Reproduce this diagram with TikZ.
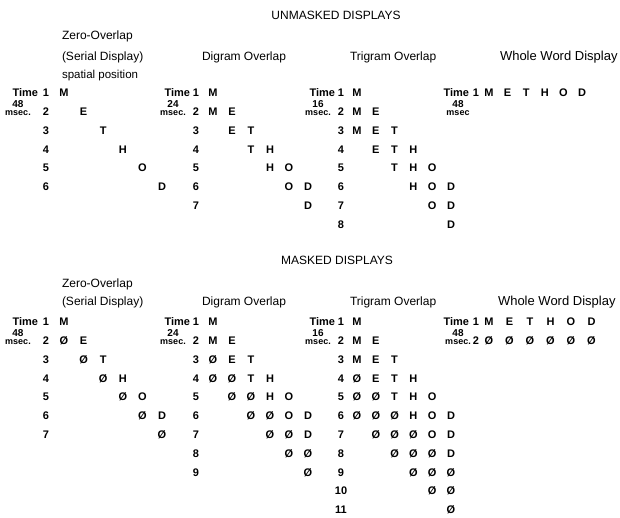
\documentclass[tikz,border=0pt]{standalone}
\usepackage{fontspec}
\setmainfont{Liberation Sans}
\begin{document}
\begin{tikzpicture}[x=1pt,y=-1pt,
  every node/.style={inner sep=0pt, outer sep=0pt},
  hdr/.style={font=\fontsize{12}{14}\selectfont},
  ttl/.style={font=\fontsize{12}{14}\selectfont, anchor=west},
  wttl/.style={font=\fontsize{13}{15}\selectfont, anchor=west},
  sml/.style={font=\fontsize{11.5}{13}\selectfont, anchor=west},
  cell/.style={font=\fontsize{11}{13}\selectfont\bfseries},
  tim/.style={font=\fontsize{11}{13}\selectfont\bfseries, anchor=east},
  dur/.style={font=\fontsize{10}{11}\selectfont\bfseries},
  ms/.style={font=\fontsize{9}{10}\selectfont\bfseries},
]
\useasboundingbox (0,0) rectangle (620,518);
% ---------------- UNMASKED ----------------
\def\uy{93}\def\dy{18.8}
\node[hdr] (uhead) at (336,15) {UNMASKED DISPLAYS};
\node[ttl] (uz1) at (62,36) {Zero-Overlap};
\node[ttl] (uz2) at (62,57) {(Serial Display)};
\node[sml] (uz3) at (62,76) {spatial position};
\node[ttl] (udt) at (202,57) {Digram Overlap};
\node[ttl] (utt) at (350,57) {Trigram Overlap};
\node[wttl] (uwt) at (500,57) {Whole Word Display};
% zero overlap
\node[tim] (zu-time) at (38,\uy) {Time};
\node[dur] (zu-dur) at (18,{\uy+11}) {48};
\node[ms] (zu-ms) at (18,{\uy+20}) {msec.};
\foreach \r in {1,...,6} \node[cell] (zu-d\r) at (46,{\uy+\dy*(\r-1)}) {\r};
\foreach \r/\c/\ch in {1/0/M,2/1/E,3/2/T,4/3/H,5/4/O,6/5/D}
  \node[cell] (zu-\r-\c) at ({64+19.6*\c},{\uy+\dy*(\r-1)}) {\ch};
% digram
\node[tim] (du-time) at (190,\uy) {Time};
\node[dur] (du-dur) at (173,{\uy+11}) {24};
\node[ms] (du-ms) at (173,{\uy+20}) {msec.};
\foreach \r in {1,...,7} \node[cell] (du-d\r) at (196,{\uy+\dy*(\r-1)}) {\r};
\foreach \r/\c/\ch in {1/0/M,2/0/M,2/1/E,3/1/E,3/2/T,4/2/T,4/3/H,5/3/H,5/4/O,6/4/O,6/5/D,7/5/D}
  \node[cell] (du-\r-\c) at ({213+19*\c},{\uy+\dy*(\r-1)}) {\ch};
% trigram
\node[tim] (tu-time) at (335,\uy) {Time};
\node[dur] (tu-dur) at (318,{\uy+11}) {16};
\node[ms] (tu-ms) at (318,{\uy+20}) {msec.};
\foreach \r in {1,...,8} \node[cell] (tu-d\r) at (341,{\uy+\dy*(\r-1)}) {\r};
\foreach \r/\c/\ch in {1/0/M,2/0/M,2/1/E,3/0/M,3/1/E,3/2/T,4/1/E,4/2/T,4/3/H,
    5/2/T,5/3/H,5/4/O,6/3/H,6/4/O,6/5/D,7/4/O,7/5/D,8/5/D}
  \node[cell] (tu-\r-\c) at ({357+18.8*\c},{\uy+\dy*(\r-1)}) {\ch};
% whole word
\node[tim] (wu-time) at (469,\uy) {Time};
\node[dur] (wu-dur) at (458,{\uy+11}) {48};
\node[ms] (wu-ms) at (458,{\uy+20}) {msec};
\node[cell] (wu-d1) at (476,\uy) {1};
\foreach \c/\ch in {0/M,1/E,2/T,3/H,4/O,5/D}
  \node[cell] (wu-1-\c) at ({489+18.6*\c},\uy) {\ch};
% ---------------- MASKED ----------------
\def\my{322}
\node[hdr] (mhead) at (337,260) {MASKED DISPLAYS};
\node[ttl] (mz1) at (62,284) {Zero-Overlap};
\node[ttl] (mz2) at (62,302) {(Serial Display)};
\node[ttl] (mdt) at (202,302) {Digram Overlap};
\node[ttl] (mtt) at (350,302) {Trigram Overlap};
\node[wttl] (mwt) at (498,302) {Whole Word Display};
% zero overlap
\node[tim] (zm-time) at (38,\my) {Time};
\node[dur] (zm-dur) at (18,{\my+11}) {48};
\node[ms] (zm-ms) at (18,{\my+20}) {msec.};
\foreach \r in {1,...,7} \node[cell] (zm-d\r) at (46,{\my+\dy*(\r-1)}) {\r};
\foreach \r/\c/\ch in {1/0/M,2/0/Ø,2/1/E,3/1/Ø,3/2/T,4/2/Ø,4/3/H,5/3/Ø,5/4/O,6/4/Ø,6/5/D,7/5/Ø}
  \node[cell] (zm-\r-\c) at ({64+19.6*\c},{\my+\dy*(\r-1)}) {\ch};
% digram
\node[tim] (dm-time) at (190,\my) {Time};
\node[dur] (dm-dur) at (173,{\my+11}) {24};
\node[ms] (dm-ms) at (173,{\my+20}) {msec.};
\foreach \r in {1,...,9} \node[cell] (dm-d\r) at (196,{\my+\dy*(\r-1)}) {\r};
\foreach \r/\c/\ch in {1/0/M,2/0/M,2/1/E,3/0/Ø,3/1/E,3/2/T,4/0/Ø,4/1/Ø,4/2/T,4/3/H,
    5/1/Ø,5/2/Ø,5/3/H,5/4/O,6/2/Ø,6/3/Ø,6/4/O,6/5/D,7/3/Ø,7/4/Ø,7/5/D,8/4/Ø,8/5/Ø,9/5/Ø}
  \node[cell] (dm-\r-\c) at ({213+19*\c},{\my+\dy*(\r-1)}) {\ch};
% trigram
\node[tim] (tm-time) at (335,\my) {Time};
\node[dur] (tm-dur) at (318,{\my+11}) {16};
\node[ms] (tm-ms) at (318,{\my+20}) {msec.};
\foreach \r in {1,...,11} \node[cell] (tm-d\r) at (341,{\my+\dy*(\r-1)}) {\r};
\foreach \r/\c/\ch in {1/0/M,2/0/M,2/1/E,3/0/M,3/1/E,3/2/T,4/0/Ø,4/1/E,4/2/T,4/3/H,
    5/0/Ø,5/1/Ø,5/2/T,5/3/H,5/4/O,6/0/Ø,6/1/Ø,6/2/Ø,6/3/H,6/4/O,6/5/D,
    7/1/Ø,7/2/Ø,7/3/Ø,7/4/O,7/5/D,8/2/Ø,8/3/Ø,8/4/Ø,8/5/D,9/3/Ø,9/4/Ø,9/5/Ø,
    10/4/Ø,10/5/Ø,11/5/Ø}
  \node[cell] (tm-\r-\c) at ({357+18.8*\c},{\my+\dy*(\r-1)}) {\ch};
% whole word
\node[tim] (wm-time) at (469,\my) {Time};
\node[dur] (wm-dur) at (458,{\my+11}) {48};
\node[ms] (wm-ms) at (458,{\my+20}) {msec.};
\node[cell] (wm-d1) at (476,\my) {1};
\node[cell] (wm-d2) at (476,{\my+\dy}) {2};
\foreach \c/\ch in {0/M,1/E,2/T,3/H,4/O,5/D}
  \node[cell] (wm-1-\c) at ({489+20.5*\c},\my) {\ch};
\foreach \c in {0,...,5}
  \node[cell] (wm-2-\c) at ({489+20.5*\c},{\my+\dy}) {Ø};
\end{tikzpicture}
\end{document}
